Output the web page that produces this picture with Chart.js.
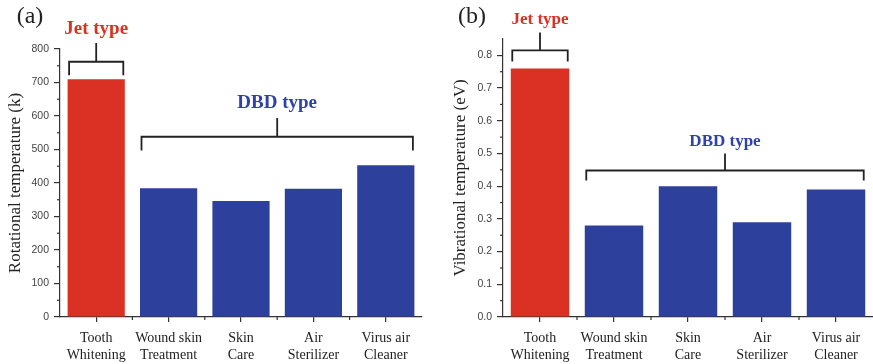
<!DOCTYPE html>
<html>
<head>
<meta charset="utf-8">
<script src="https://cdn.jsdelivr.net/npm/chart.js@4"></script>
<style>
body { margin: 0; background: #fff; }
#wrap { position: relative; width: 873px; height: 364px; }
canvas { position: absolute; top: 0; }
</style>
</head>
<body>
<div id="wrap">
  <canvas id="left" width="436" height="364" style="left:0"></canvas>
  <canvas id="right" width="437" height="364" style="left:436px"></canvas>
</div>
<script>
// ===== DATA =====
const categories = [
    ["Tooth", "Whitening"],
    ["Wound skin", "Treatment"],
    ["Skin", "Care"],
    ["Air", "Sterilizer"],
    ["Virus air", "Cleaner"]
];
const rotationalTemp = [710, 384, 346, 383, 453];
const vibrationalTemp = [0.76, 0.28, 0.40, 0.29, 0.39];
const rotTicks = [0, 100, 200, 300, 400, 500, 600, 700, 800];
const vibTicks = [0, 0.1, 0.2, 0.3, 0.4, 0.5, 0.6, 0.7, 0.8];

const RED = "#DB3124";
const BLUE = "#2D409C";
const barColors = [RED, BLUE, BLUE, BLUE, BLUE];
const AXIS = "#333";

// ===== brackets + panel letters + minor ticks =====
const extras = {
    id: "extras",
    afterDraw(chart, args, opts) {
        const ctx = chart.ctx;
        const xs = chart.scales.x, ys = chart.scales.y;
        const bars = chart.getDatasetMeta(0).data;

        ctx.save();
        ctx.strokeStyle = AXIS;
        ctx.lineWidth = 1.2;
        // minor y ticks
        for (let i = 0; i < ys.ticks.length - 1; i++) {
            const m = (ys.getPixelForValue(ys.ticks[i].value) + ys.getPixelForValue(ys.ticks[i + 1].value)) / 2;
            ctx.beginPath();
            ctx.moveTo(xs.left - 3, m);
            ctx.lineTo(xs.left, m);
            ctx.stroke();
        }
        // minor x ticks (category boundaries)
        for (let i = 0; i < bars.length - 1; i++) {
            const m = (bars[i].x + bars[i + 1].x) / 2;
            ctx.beginPath();
            ctx.moveTo(m, ys.bottom);
            ctx.lineTo(m, ys.bottom + 3);
            ctx.stroke();
        }

        // brackets
        ctx.strokeStyle = "#222";
        ctx.lineWidth = 1.8;
        opts.groups.forEach(g => {
            const x0 = bars[g.from].x - bars[g.from].width / 2 + 1.5;
            const x1 = bars[g.to].x + bars[g.to].width / 2 - 1.5;
            const yb = ys.getPixelForValue(g.y);
            const yd = ys.getPixelForValue(g.drop);
            const yt = ys.getPixelForValue(g.stem);
            const xm = (x0 + x1) / 2;
            ctx.beginPath();
            ctx.moveTo(x0, yd);
            ctx.lineTo(x0, yb);
            ctx.lineTo(x1, yb);
            ctx.lineTo(x1, yd);
            ctx.moveTo(xm, yb);
            ctx.lineTo(xm, yt);
            ctx.stroke();

            ctx.fillStyle = g.color;
            ctx.font = "bold " + opts.fontSize + "px 'Liberation Serif', serif";
            ctx.textAlign = "center";
            ctx.textBaseline = "middle";
            ctx.fillText(g.text, xm, ys.getPixelForValue(g.textY));
        });

        // panel letter
        ctx.fillStyle = "#222";
        ctx.font = "24px 'Liberation Serif', serif";
        ctx.textAlign = "center";
        ctx.textBaseline = "middle";
        ctx.fillText(opts.panel, opts.panelX, 17);
        ctx.restore();
    }
};

function makeChart(id, values, ticks, yMax, title, pad, yWidth, titlePad, fmt, annot) {
    return new Chart(document.getElementById(id), {
        type: "bar",
        data: {
            labels: categories,
            datasets: [{
                data: values,
                backgroundColor: barColors,
                borderWidth: 0,
                barPercentage: 0.79,
                categoryPercentage: 1
            }]
        },
        options: {
            responsive: false,
            animation: false,
            layout: { padding: pad },
            plugins: {
                legend: { display: false },
                tooltip: { enabled: false },
                extras: annot
            },
            scales: {
                x: {
                    grid: { display: true, drawOnChartArea: false, offset: false, tickLength: 5, color: AXIS, lineWidth: 1.2 },
                    border: { color: AXIS, width: 1.2 },
                    ticks: {
                        color: "#222",
                        padding: 8,
                        maxRotation: 0,
                        autoSkip: false,
                        font: { family: "'Liberation Serif', serif", size: 14 }
                    },
                    afterFit: s => { s.height = 47; }
                },
                y: {
                    min: 0,
                    max: yMax,
                    grid: { display: true, drawOnChartArea: false, tickLength: 6, color: AXIS, lineWidth: 1.2 },
                    border: { color: AXIS, width: 1.2 },
                    ticks: {
                        color: "#444",
                        padding: 5,
                        font: { family: "'Liberation Sans', Arial, sans-serif", size: 10.5 },
                        callback: fmt
                    },
                    afterBuildTicks: s => { s.ticks = ticks.map(v => ({ value: v })); },
                    afterFit: s => { s.width = yWidth; },
                    title: {
                        display: true,
                        text: title,
                        color: "#222",
                        padding: { top: titlePad, bottom: 0 },
                        font: { family: "'Liberation Serif', serif", size: 17 }
                    }
                }
            }
        },
        plugins: [extras]
    });
}

makeChart("left", rotationalTemp, rotTicks, 800, "Rotational temperature (k)",
    { top: 49, right: 14, left: 0, bottom: 0 }, 60, 5, v => v,
    {
        panel: "(a)", panelX: 30, fontSize: 19,
        groups: [
            { from: 0, to: 0, y: 762, drop: 722, stem: 818, text: "Jet type", textY: 858, color: RED },
            { from: 1, to: 4, y: 538, drop: 497, stem: 594, text: "DBD type", textY: 639, color: "#2E42AA" }
        ]
    });

makeChart("right", vibrationalTemp, vibTicks, 0.85, "Vibrational temperature (eV)",
    { top: 39, right: 0, left: 0, bottom: 0 }, 67, 14, v => Number(v).toFixed(1),
    {
        panel: "(b)", panelX: 36, fontSize: 17,
        groups: [
            { from: 0, to: 0, y: 0.815, drop: 0.781, stem: 0.87, text: "Jet type", textY: 0.908, color: RED },
            { from: 1, to: 4, y: 0.448, drop: 0.417, stem: 0.50, text: "DBD type", textY: 0.537, color: "#2E42AA" }
        ]
    });
</script>
</body>
</html>
